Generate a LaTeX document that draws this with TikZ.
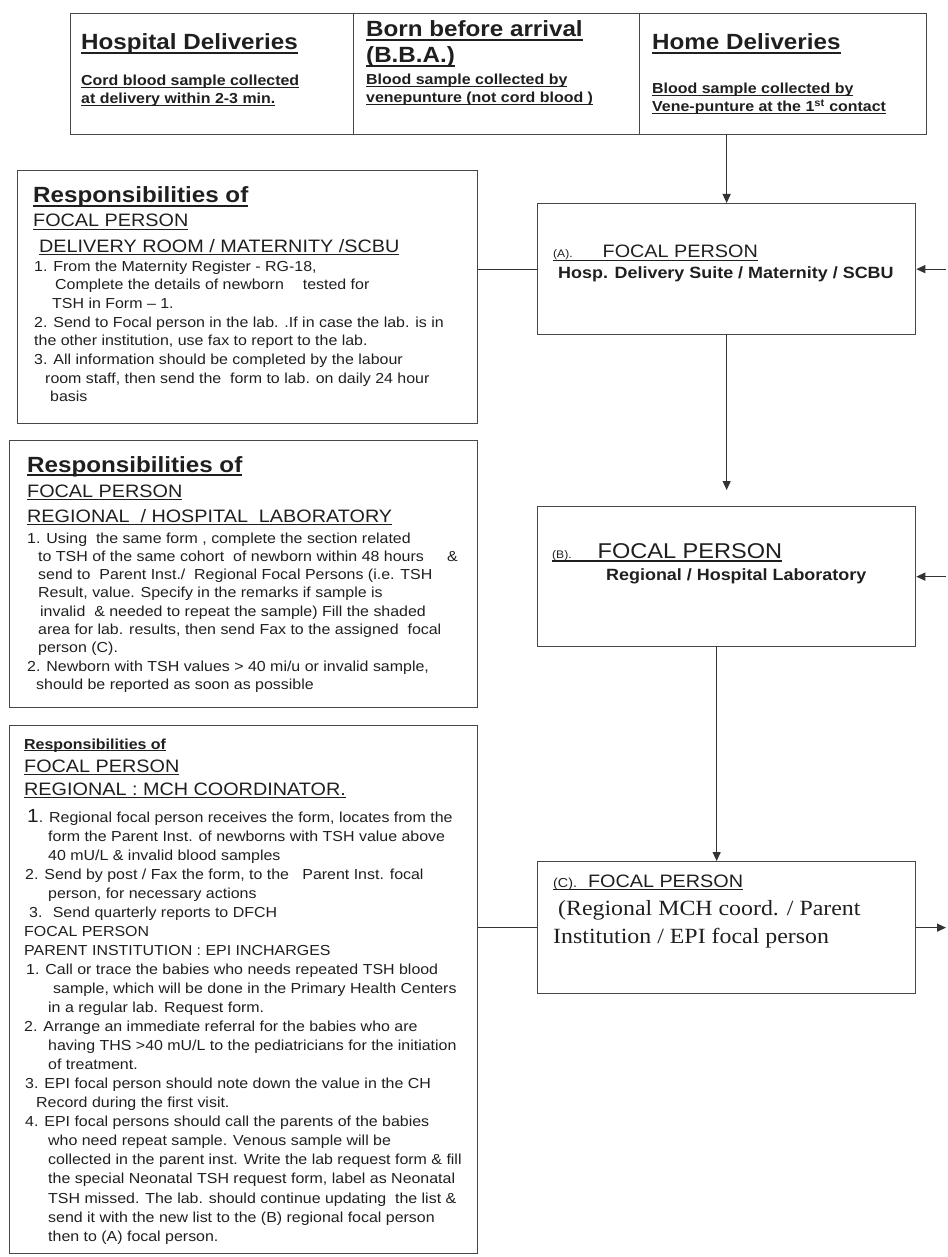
\documentclass[tikz,border=0pt]{standalone}
\usepackage{fontspec}
\setmainfont{Liberation Sans}[FakeStretch=1.1]
\newfontfamily\zserif{Liberation Serif}[FakeStretch=1.1]
\usetikzlibrary{arrows.meta}
\newcommand\myul[1]{\setbox0\hbox{#1}\rlap{\rule[-0.17em]{\wd0}{0.075em}}\box0}
\newcommand\zlines[1]{\vtop{\halign{##\hfil\cr#1\crcr}}}
\newcommand\zHead{\fontsize{22}{26}\selectfont\bfseries}
\newcommand\zFoc{\fontsize{18}{22}\selectfont}
\newcommand\zSub{\fontsize{14.5}{18}\selectfont\bfseries}
\newcommand\zBold{\fontsize{16.3}{20}\selectfont\bfseries}
\newcommand\zSmall{\fontsize{11}{13}\selectfont}
\tikzset{
  box/.style={draw=black!72, line width=1.3pt, anchor=north west, inner sep=0pt},
  txt/.style={anchor=base west, inner sep=0pt, text=black!88},
  conn/.style={draw=black!80, line width=1.2pt},
  arr/.style={conn, -{Triangle[length=9pt,width=8pt]}},
}
\begin{document}
\begin{tikzpicture}[x=1pt,y=-1pt]
\useasboundingbox (0,0) rectangle (947,1257);
\coordinate (edgeR) at (946,0);

% top boxes
\node[box, minimum width=283, minimum height=121] (col1) at (70,13) {};
\node[box, minimum width=286, minimum height=121] (col2) at (353,13) {};
\node[box, minimum width=287, minimum height=121] (col3) at (639,13) {};
\node[txt, font=\zHead] (t1h) at (81,50) {\myul{Hospital Deliveries}};
\node[txt, font=\zSub] (t1s) at (81,86) {\zlines{\myul{Cord blood sample collected}\cr\myul{at delivery within 2-3 min.}}};
\node[txt, font=\zHead] (t2h) at (366,37) {\zlines{\myul{Born before arrival}\cr\myul{(B.B.A.)}}};
\node[txt, font=\zSub] (t2s) at (366,85) {\zlines{\myul{Blood sample collected by}\cr\myul{venepunture (not cord blood )}}};
\node[txt, font=\zHead] (t3h) at (652,50) {\myul{Home Deliveries}};
\node[txt, font=\zSub] (t3s) at (652,94) {\zlines{\myul{Blood sample collected by}\cr\myul{Vene-punture at the 1\textsuperscript{st} contact}}};

% focal boxes
\node[box, minimum width=378, minimum height=131] (A) at (537,203) {};
\node[txt, font=\zFoc] (Ah) at (553,258) {\myul{{\zSmall(A).}\hspace{30pt}FOCAL PERSON}};
\node[txt, font=\zBold] (As) at (558,278) {Hosp. Delivery Suite / Maternity / SCBU};

\node[box, minimum width=378, minimum height=140] (B) at (537,506) {};
\node[txt, font=\fontsize{21.4}{24}\selectfont] (Bh) at (552,558) {\myul{{\zSmall(B).}\hspace{26pt}FOCAL PERSON}};
\node[txt, font=\zBold] (Bs) at (606,580) {Regional / Hospital Laboratory};

\node[box, minimum width=378, minimum height=132] (C) at (537,861) {};
\node[txt, font=\zFoc] (Ch) at (553,887) {\myul{{\fontsize{13}{15}\selectfont(C).}\hspace{11pt}FOCAL PERSON}};
\node[txt, font=\zserif\fontsize{21.7}{28}\selectfont] (Cs) at (553,915) {\zlines{\hspace*{5pt}(Regional MCH coord. / Parent\cr Institution / EPI focal person}};

% responsibilities 1
\node[box, minimum width=460, minimum height=253] (R1) at (17,170) {};
\node[txt, font=\zHead] (R1a) at (33,203) {\myul{Responsibilities of}};
\node[txt, font=\zFoc] (R1b) at (33,227) {\myul{FOCAL PERSON}};
\node[txt, font=\zFoc] (R1c) at (39,252) {\myul{DELIVERY ROOM / MATERNITY /SCBU}};
\node[txt, font=\fontsize{14.5}{18.7}\selectfont] (R1d) at (34,271) {\zlines{1. From the Maternity Register - RG-18,\cr
\hspace*{21pt}Complete the details of newborn \quad tested for\cr
\hspace*{18pt}TSH in Form – 1.\cr
2. Send to Focal person in the lab. .If in case the lab. is in\cr
the other institution, use fax to report to the lab.\cr
3. All information should be completed by the labour\cr
\hspace*{11pt}room staff, then send the \ form to lab. on daily 24 hour\cr
\hspace*{16pt}basis}};

% responsibilities 2
\node[box, minimum width=468, minimum height=267] (R2) at (9,440) {};
\node[txt, font=\zHead] (R2a) at (27,472) {\myul{Responsibilities of}};
\node[txt, font=\zFoc] (R2b) at (27,497) {\myul{FOCAL PERSON}};
\node[txt, font=\zFoc] (R2c) at (27,522) {\myul{REGIONAL \ / HOSPITAL \ LABORATORY}};
\node[txt, font=\fontsize{14.5}{18.3}\selectfont] (R2d) at (27,543) {\zlines{1. Using \ the same form , complete the section related\cr
\hspace*{11pt}to TSH of the same cohort \ of newborn within 48 hours \quad\ \&\cr
\hspace*{11pt}send to \ Parent Inst./ \ Regional Focal Persons (i.e. TSH\cr
\hspace*{11pt}Result, value. Specify in the remarks if sample is\cr
\hspace*{13pt}invalid \ \& needed to repeat the sample) Fill the shaded\cr
\hspace*{11pt}area for lab. results, then send Fax to the assigned \ focal\cr
\hspace*{11pt}person (C).\cr
2. Newborn with TSH values > 40 mi/u or invalid sample,\cr
\hspace*{9pt}should be reported as soon as possible}};

% responsibilities 3
\node[box, minimum width=468, minimum height=528] (R3) at (9,725) {};
\node[txt, font=\fontsize{14.5}{17}\selectfont\bfseries] (R3a) at (24,749) {\myul{Responsibilities of}};
\node[txt, font=\zFoc] (R3b) at (24,772) {\myul{FOCAL PERSON}};
\node[txt, font=\zFoc] (R3c) at (24,795) {\myul{REGIONAL : MCH COORDINATOR.}};
\node[txt, font=\fontsize{14.5}{19.05}\selectfont] (R3d) at (24,822) {\zlines{\hspace*{3pt}{\fontsize{19}{19}\selectfont 1}. Regional focal person receives the form, locates from the\cr
\hspace*{24pt}form the Parent Inst. of newborns with TSH value above\cr
\hspace*{24pt}40 mU/L \& invalid blood samples\cr
\hspace*{1pt}2. Send by post / Fax the form, to the \ \ Parent Inst. focal\cr
\hspace*{24pt}person, for necessary actions\cr
\hspace*{5pt}3. \ Send quarterly reports to DFCH\cr
FOCAL PERSON\cr
PARENT INSTITUTION : EPI INCHARGES\cr
\hspace*{2pt}1. Call or trace the babies who needs repeated TSH blood\cr
\hspace*{29pt}sample, which will be done in the Primary Health Centers\cr
\hspace*{24pt}in a regular lab. Request form.\cr
2. Arrange an immediate referral for the babies who are\cr
\hspace*{24pt}having THS >40 mU/L to the pediatricians for the initiation\cr
\hspace*{24pt}of treatment.\cr
\hspace*{1pt}3. EPI focal person should note down the value in the CH\cr
\hspace*{12pt}Record during the first visit.\cr
\hspace*{1pt}4. EPI focal persons should call the parents of the babies\cr
\hspace*{24pt}who need repeat sample. Venous sample will be\cr
\hspace*{24pt}collected in the parent inst. Write the lab request form \& fill\cr
\hspace*{24pt}the special Neonatal TSH request form, label as Neonatal\cr
\hspace*{24pt}TSH missed. The lab. should continue updating \ the list \&\cr
\hspace*{24pt}send it with the new list to the (B) regional focal person\cr
\hspace*{24pt}then to (A) focal person.}};

% connectors
\draw[arr] (A.north |- col3.south) -- (A.north);
\draw[arr, shorten >=16pt] (A.south) -- (B.north);
\draw[arr] ([xshift=-10pt]B.south) -- ([xshift=-10pt]C.north);
\draw[conn] (R1.east |- A.west) -- (A.west);
\draw[conn] (R3.east |- C.west) -- (C.west);
\draw[arr] (edgeR |- A.east) -- (A.east);
\draw[arr] (edgeR |- B.east) -- (B.east);
\draw[arr] (C.east) -- (edgeR |- C.east);
\end{tikzpicture}
\end{document}
